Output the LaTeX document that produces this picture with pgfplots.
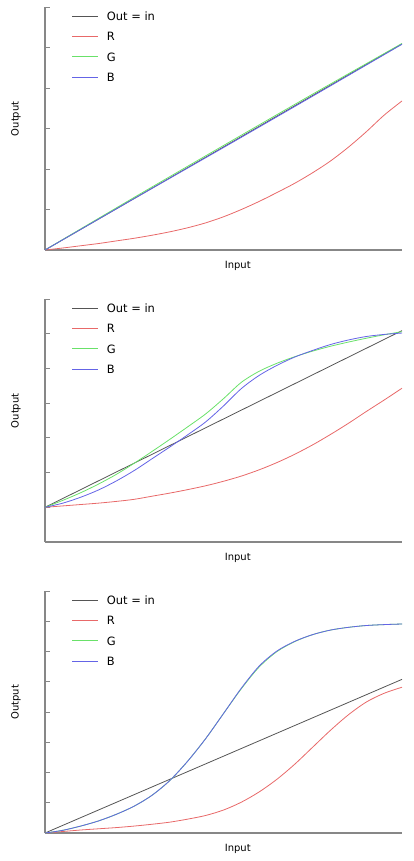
\documentclass[border=0pt]{standalone}
\usepackage{pgfplots}
\pgfplotsset{compat=1.18}
\usepackage{fontspec}
\setmainfont{DejaVu Sans}
\definecolor{cK}{RGB}{85,85,85}
\definecolor{cR}{RGB}{232,105,105}
\definecolor{cG}{RGB}{105,225,105}
\definecolor{cB}{RGB}{100,100,230}
\definecolor{cAx}{RGB}{135,135,135}
\newcommand{\lblfont}{\fontsize{11.5}{13}\selectfont}
\pgfplotsset{
  panel/.style={
    scale only axis, width=357bp, xmin=0, xmax=1, ymin=0,
    axis x line*=bottom, axis y line*=left,
    axis line style={draw=cAx, line width=1.2bp},
    xtick=\empty, yticklabels={},
    tick align=inside, major tick length=5bp,
    every tick/.style={draw=cAx, line width=0.9bp},
    xlabel={Input}, ylabel={Output},
    label style={font=\lblfont},
    every axis x label/.style={at={(axis description cs:0.54,-0.066)}, anchor=center},
    every axis y label/.style={at={(axis description cs:-0.081,0.54)}, anchor=center, rotate=90},
    legend cell align=left,
    legend style={at={(axis description cs:0.0756,0.981)}, anchor=north west,
      draw=none, fill=none, inner sep=0pt, outer sep=0pt,
      column sep=8bp, row sep=11.3bp, font=\lblfont,
      nodes={inner sep=0pt, text height=9bp, text depth=0pt}},
    legend image code/.code={\draw[#1, line width=0.9bp] (0bp,0bp) -- (26bp,0bp);},
    every axis plot/.append style={line width=0.8bp, smooth},
  }
}
\begin{document}
\begin{tikzpicture}[x=1bp,y=1bp]
\useasboundingbox (0,0) rectangle (413,-861);
% Panel A
\begin{axis}[panel, at={(45bp,-250bp)}, anchor=south west, height=243bp, ymax=6, ytick={0,...,6}]
\addplot[color=cK, sharp plot] coordinates {(0,0) (1,5.09)};
\addplot[color=cR] coordinates {(0,0) (0.05,0.05) (0.1,0.105) (0.15,0.16) (0.2,0.225) (0.25,0.29) (0.3,0.365) (0.35,0.45) (0.4,0.55) (0.45,0.67) (0.5,0.82) (0.55,1.0) (0.6,1.2) (0.65,1.42) (0.7,1.65) (0.75,1.91) (0.8,2.2) (0.85,2.54) (0.9,2.92) (0.95,3.33) (1,3.68)};
\addplot[color=cG] coordinates {(0,0) (0.25,1.30) (0.5,2.58) (0.75,3.85) (1,5.10)};
\addplot[color=cB] coordinates {(0,0) (0.25,1.27) (0.5,2.53) (0.75,3.80) (1,5.08)};
\legend{Out = in, R, G, B}
\node[font=\bfseries\fontsize{15}{16}\selectfont] at (axis description cs:-0.084,0.955) {A};
\end{axis}
% Panel B
\begin{axis}[panel, at={(45bp,-542bp)}, anchor=south west, height=243bp, ymax=7, ytick={0,...,7}]
\addplot[color=cK, sharp plot] coordinates {(0,1) (1,6.09)};
\addplot[color=cR] coordinates {(0,1) (0.05,1.04) (0.1,1.08) (0.15,1.12) (0.2,1.17) (0.25,1.23) (0.3,1.32) (0.35,1.41) (0.4,1.51) (0.45,1.62) (0.5,1.75) (0.55,1.9) (0.6,2.08) (0.65,2.29) (0.7,2.53) (0.75,2.80) (0.8,3.10) (0.85,3.42) (0.9,3.76) (0.95,4.09) (1,4.43)};
\addplot[color=cG] coordinates {(0,1) (0.05,1.2) (0.1,1.42) (0.15,1.67) (0.2,1.95) (0.25,2.27) (0.3,2.61) (0.35,2.96) (0.4,3.32) (0.45,3.69) (0.5,4.13) (0.55,4.6) (0.6,4.92) (0.65,5.15) (0.7,5.34) (0.75,5.5) (0.8,5.64) (0.85,5.76) (0.9,5.87) (0.95,5.97) (1,6.06)};
\addplot[color=cB] coordinates {(0,1) (0.05,1.12) (0.1,1.29) (0.15,1.5) (0.2,1.76) (0.25,2.06) (0.3,2.4) (0.35,2.74) (0.4,3.09) (0.45,3.46) (0.5,3.92) (0.55,4.42) (0.6,4.80) (0.65,5.09) (0.7,5.33) (0.75,5.52) (0.8,5.69) (0.85,5.82) (0.9,5.92) (0.95,5.98) (1,6.02)};
\legend{Out = in, R, G, B}
\node[font=\bfseries\fontsize{15}{16}\selectfont] at (axis description cs:-0.084,0.963) {B};
\end{axis}
% Panel C
\begin{axis}[panel, at={(45bp,-833bp)}, anchor=south west, height=242bp, ymax=8, ytick={0,...,8}]
\addplot[color=cK, sharp plot] coordinates {(0,0) (1,5.08)};
\addplot[color=cR] coordinates {(0,0) (0.05,0.05) (0.1,0.1) (0.15,0.14) (0.2,0.18) (0.25,0.23) (0.3,0.29) (0.35,0.36) (0.4,0.46) (0.45,0.58) (0.5,0.76) (0.55,1.02) (0.6,1.36) (0.65,1.78) (0.7,2.28) (0.75,2.84) (0.8,3.4) (0.85,3.91) (0.9,4.33) (0.95,4.62) (1,4.82)};
\addplot[color=cG] coordinates {(0,0) (0.05,0.09) (0.1,0.23) (0.15,0.4) (0.2,0.62) (0.25,0.89) (0.3,1.25) (0.35,1.74) (0.4,2.38) (0.45,3.12) (0.5,3.95) (0.55,4.77) (0.6,5.49) (0.65,6.0) (0.7,6.33) (0.75,6.56) (0.8,6.71) (0.85,6.8) (0.9,6.86) (0.95,6.89) (1,6.91)};
\addplot[color=cB] coordinates {(0,0) (0.05,0.09) (0.1,0.23) (0.15,0.4) (0.2,0.62) (0.25,0.89) (0.3,1.25) (0.35,1.74) (0.4,2.38) (0.45,3.12) (0.5,3.95) (0.55,4.79) (0.6,5.52) (0.65,6.02) (0.7,6.34) (0.75,6.56) (0.8,6.71) (0.85,6.8) (0.9,6.86) (0.95,6.89) (1,6.91)};
\legend{Out = in, R, G, B}
\node[font=\bfseries\fontsize{15}{16}\selectfont] at (axis description cs:-0.084,0.963) {C};
\end{axis}
\end{tikzpicture}
\end{document}
